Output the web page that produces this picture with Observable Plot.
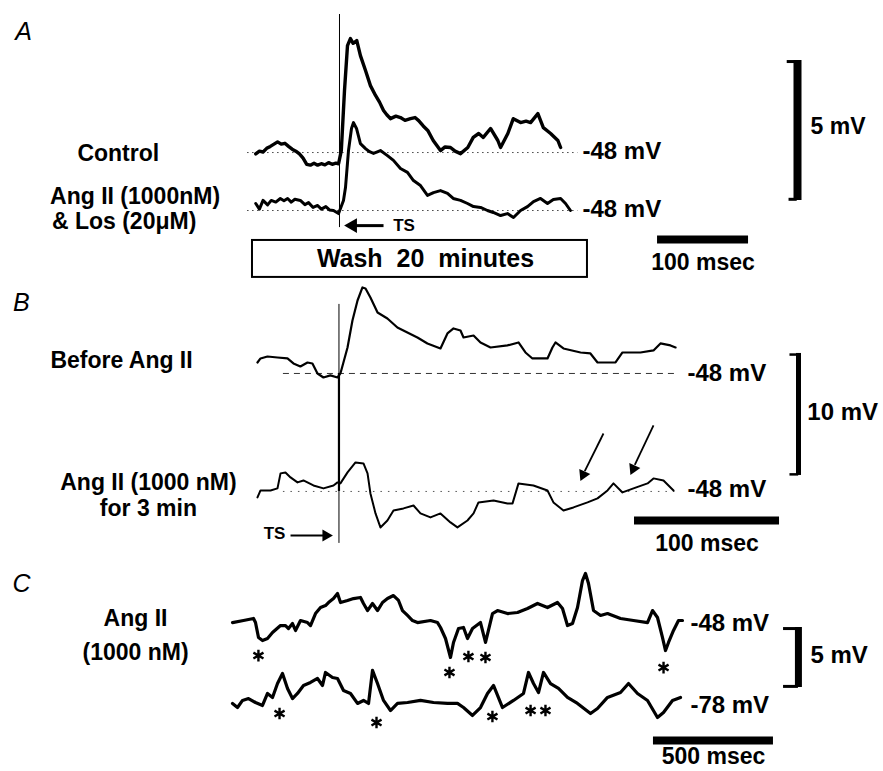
<!DOCTYPE html>
<html><head><meta charset="utf-8">
<script src="https://cdn.jsdelivr.net/npm/d3@7"></script>
<script src="https://cdn.jsdelivr.net/npm/@observablehq/plot@0.6"></script>
<style>
html,body{margin:0;padding:0;background:#fff;}
#fig{width:883px;height:771px;overflow:hidden;}
#fig svg{display:block;}
</style></head><body><div id="fig"></div>
<script>
// ---------- DATA (time in ms, deflection in mV from resting level) ----------
// Panel A: time from test stimulus (TS)
const aControlT = [-92,-88,-84,-80,-76,-72,-68,-64,-60,-56,-52,-48,-44,-40,-36,-32,-28,-24,-20,-16,-12,-8,-4,-1,2,5.5,8.8,12,15,19,23,28.6,34,39.6,44,48.4,52,56,62,67,72,78,83,87,92,97,103,111,116,122,127,133,141,147,153,158,166,174,177,185,191,199,205,210,218,224,232,240,243];
const aControlV = [-0.05,0.05,0.02,0.15,0.22,0.3,0.38,0.3,0.33,0.22,0.12,0.05,-0.05,-0.2,-0.42,-0.45,-0.38,-0.45,-0.4,-0.44,-0.36,-0.42,-0.38,-0.4,0.07,2.21,3.82,4.07,3.9,4.0,3.46,2.93,2.39,2.04,1.8,1.5,1.35,1.21,1.3,1.25,1.15,1.21,1.25,1.14,0.95,0.79,0.43,0.07,0.2,0.18,0.05,-0.04,0.18,0.54,0.68,0.54,0.86,0.43,0.18,0.68,1.21,1.07,1.12,1.07,1.39,0.89,0.68,0.43,0.18];
const aAngLosT = [-92,-88,-84,-79,-75,-70,-65,-61,-57,-53,-49,-43,-38,-34,-29,-24,-20,-15,-11,-6.6,-1,4.4,6.6,9.9,13.2,15.4,18.7,23,28.6,33,37.4,45,52.7,59.3,67,74.7,81.3,89,96.7,103.3,111,118.7,125,133,140.7,147.3,155,162.6,169,177,184.6,191.2,199,206.6,213.2,220.9,228.6,235,243,248.4,253.8];
const aAngLosV = [0.25,0.05,0.36,0.2,0.36,0.3,0.43,0.35,0.43,0.3,0.4,0.36,0.21,0.28,0.11,0.18,0.05,0.14,0.02,0,-0.11,0.36,0.82,2.14,2.93,3.14,2.93,2.39,2.21,2.1,2.04,2.14,1.96,1.79,1.5,1.36,1.07,0.89,0.54,0.64,0.71,0.61,0.43,0.36,0.25,0.14,0.11,0,-0.07,-0.18,-0.11,-0.25,0,0.14,0.32,0.43,0.25,0.39,0.43,0.25,0];
// Panel B
const bBeforeT = [-56.2,-54.1,-49.3,-42.4,-35.5,-31.4,-26.6,-21.7,-18.3,-14.8,-10.7,-5.9,-1,1,5.9,9.3,12.8,16.2,18.3,21.7,26.6,33.4,40.3,47.2,54.1,61,70,74.8,79,83.8,85.9,92.8,97.6,104.5,116.2,123.8,128.6,133.4,143.8,147.2,149.3,154.8,166.6,173.4,178.3,185.2,190.7,195.5,207.9,216.9,221.7,228.6,232.1];
const bBeforeV = [0.9,1.23,1.39,1.31,1.23,0.82,0.57,0.9,0.82,0,-0.33,-0.16,-0.33,0,2.13,4.34,5.98,7.05,6.97,6.23,5.0,4.51,3.77,3.36,2.95,2.46,2.05,3.28,3.69,3.52,2.95,3.11,2.54,2.13,2.3,2.54,1.72,1.23,1.23,2.13,2.54,2.05,1.72,1.64,0.9,0.9,0.9,1.72,1.72,1.89,2.46,2.3,2.13];
const bAngT = [-56.2,-54.1,-47.2,-42.4,-40.3,-36.9,-33.4,-28.6,-24.5,-17.6,-10.7,-3.8,-1,1,5.9,11.4,16.9,19.7,21.7,25.2,28.6,33.4,37.6,44.5,51.4,56.2,63.1,70,76.9,81.7,88.6,92.8,96.2,106.6,116.2,119.7,123.8,134.1,143.8,147.9,154.8,161.7,171.4,178.3,185.2,189.3,195.5,203.1,212.8,216.9,223.8,230.7];
const bAngV = [-0.49,0.08,0.08,0.25,1.48,1.56,1.15,0.74,0.9,0.49,0.25,0.49,0.74,0.66,1.56,2.38,2.3,1.48,-0.16,-1.8,-2.95,-2.38,-1.56,-1.39,-1.15,-1.8,-2.13,-1.8,-2.54,-2.95,-2.38,-1.8,-0.9,-0.74,-0.98,-0.98,0.66,0.49,0.08,-0.9,-1.56,-1.31,-0.9,-0.57,0.08,0.66,-0.08,0.25,0.66,1.07,0.9,0.08];
// Panel C: time from start of sweep
const cUpperT = [0,45.8,87.5,95.8,108.3,125,145.8,166.7,200,220.8,233.3,250,262.5,283.3,312.5,325,345.8,366.7,387.5,400,420.8,437.5,450,479.2,504.2,533.3,545.8,562.5,583.3,604.2,625,645.8,670.8,691.7,708.3,729.2,750,770.8,825,854.2,866.7,887.5,908.3,920.8,941.7,962.5,979.2,1000,1033.3,1054.2,1083.3,1104.2,1145.8,1187.5,1229.2,1270.8,1312.5,1354.2,1375,1395.8,1416.7,1437.5,1458.3,1470.8,1483.3,1504.2,1533.3,1562.5,1616.7,1670.8,1729.2,1750,1770.8,1791.7,1804.2,1816.7,1837.5,1858.3,1875];
const cUpperV = [0.08,0.25,0.42,0.08,-1.17,-1.42,-1.25,-0.75,-0.17,-0.17,-0.42,0,-0.58,0.25,0.08,-0.17,0.83,1.33,1.5,1.75,2.08,2.5,1.75,1.92,2.08,2.17,1.67,1.08,1.67,1.08,1.75,2.08,2.33,1.92,1.08,0.67,0.25,0.08,0.25,0.08,-0.33,-1.25,-2.83,-1.58,-0.42,-0.33,-1.25,-0.42,0.08,-1.58,0.83,1.08,0.83,0.92,1.25,1.67,1.33,1.75,1.25,-0.17,0,1.33,3.58,4.17,3.33,1.08,0.67,0.83,0.42,0.25,0.08,1.08,0.5,-1.17,-2.25,-1.58,-0.58,0.25,0.25];
const cLowerT = [0,20.8,41.7,66.7,95.8,125,145.8,166.7,187.5,208.3,229.2,250,270.8,295.8,325,354.2,375,387.5,416.7,437.5,462.5,491.7,520.8,545.8,566.7,583.3,604.2,629.2,658.3,687.5,729.2,783.3,837.5,895.8,937.5,962.5,1000,1033.3,1062.5,1087.5,1125,1170.8,1212.5,1233.3,1254.2,1275,1295.8,1325,1358.3,1395.8,1437.5,1491.7,1520.8,1562.5,1616.7,1650,1687.5,1729.2,1770.8,1795.8,1833.3,1866.7];
const cLowerV = [0.17,-0.17,0.42,0.58,0.25,0,1.0,0.67,1.83,2.67,1.42,0.58,1.0,1.67,1.92,2.25,1.67,2.75,2.33,2.25,1.25,1.0,0.17,0.42,0.17,2.92,1.83,0.42,-0.42,0.17,0.25,0.42,0.25,0.17,0.17,-0.17,-0.83,-0.17,1.0,1.67,-0.17,0.42,1.0,2.75,1.83,1.08,2.75,1.83,1.42,0.67,0.17,-0.67,-0.25,0.67,1.08,1.83,1.0,0.42,-1.0,-0.58,0.42,0.67];
// event markers (*) in panel C (ms)
const cUpperEvents = [108, 904, 983, 1054, 1796];
const cLowerEvents = [196, 600, 1083, 1242, 1304];
// text
const panelLetters = ["A", "B", "C"];
const aTraceLabels = ["Control", "Ang II (1000nM)", "& Los (20\u03BCM)"];
const bTraceLabels = ["Before Ang II", "Ang II (1000 nM)", "for 3 min"];
const cTraceLabels = ["Ang II", "(1000 nM)"];
const aBaseLabels = ["-48 mV", "-48 mV"];
const bBaseLabels = ["-48 mV", "-48 mV"];
const cBaseLabels = ["-48 mV", "-78 mV"];
const scaleLabels = ["5 mV", "100 msec", "10 mV", "100 msec", "5 mV", "500 msec"];
const washLabel = "Wash  20  minutes";
const tsLabel = "TS";

// ---------- LAYOUT ----------
const FONT = "'Liberation Sans', Arial, Helvetica, sans-serif";
function series(T, V, dv) {
  const n = Math.min(T.length, V.length);
  return d3.range(n).map(i => ({t: T[i], v: V[i] + dv}));
}
const K = () => [0];
const bold = (size) => ({fontFamily: FONT, fontWeight: "bold", fontSize: size, fill: "black"});
const letter = {fontFamily: FONT, fontStyle: "italic", fontSize: 25, fill: "black"};
function txt(str, t, v, opts) { return Plot.text([str], {x: () => t, y: () => v, text: d => d, ...opts}); }
function base(w, h, xd, yd, marks) {
  return Plot.plot({width: w, height: h, margin: 0,
    x: {domain: xd, axis: null}, y: {domain: yd, axis: null},
    style: {fontFamily: FONT, background: "white"}, marks});
}
const LBL = 23, MV = 24;

// Panel A
const aOff = [0, -2.07];
const A = base(883, 280, [-372.5, 597.8], [-4.57, 5.43], [
  Plot.ruleY(aOff, {y: d => d, x1: -101, x2: 262, stroke: "#444", strokeWidth: 1, strokeDasharray: "1.5,3.5"}),
  Plot.ruleX(K(), {x: 0, y1: -2.68, y2: 4.93, stroke: "black", strokeWidth: 1}),
  Plot.line(series(aControlT, aControlV, aOff[0]), {x: "t", y: "v", stroke: "black", strokeWidth: 3.4, strokeLinejoin: "round"}),
  Plot.line(series(aAngLosT, aAngLosV, aOff[1]), {x: "t", y: "v", stroke: "black", strokeWidth: 3.0, strokeLinejoin: "round"}),
  txt(panelLetters[0], -347, 4.29, letter),
  txt(aTraceLabels[0], -288, -0.04, {...bold(LBL), textAnchor: "start"}),
  txt(aTraceLabels[1], -318, -1.57, {...bold(LBL), textAnchor: "start"}),
  txt(aTraceLabels[2], -316, -2.47, {...bold(LBL), textAnchor: "start"}),
  Plot.text(aBaseLabels, {x: () => 267, y: (d, i) => aOff[i] + 0.05, text: d => d, ...bold(MV), textAnchor: "start"}),
  // TS arrow
  Plot.link(K(), {x1: 48.4, x2: 14, y1: -2.61, y2: -2.61, stroke: "black", strokeWidth: 3}),
  Plot.dot(K(), {x: 14.5, y: -2.61, symbol: "triangle", r: 5.5, fill: "black", rotate: -90}),
  txt(tsLabel, 59, -2.61, {...bold(17), textAnchor: "start"}),
  // wash box
  Plot.rect(K(), {x1: -95.6, x2: 272.5, y1: -4.46, y2: -3.14, fill: "white", stroke: "black", strokeWidth: 2}),
  txt(washLabel, 94.5, -3.8, {...bold(25), textAnchor: "middle"}),
  // scale bars
  Plot.ruleX(K(), {x: 503.3, y1: -1.71, y2: 3.29, stroke: "black", strokeWidth: 8}),
  Plot.ruleY(K(), {y: 3.25, x1: 492, x2: 503, stroke: "black", strokeWidth: 3}),
  Plot.ruleY(K(), {y: -1.67, x1: 494, x2: 503, stroke: "black", strokeWidth: 3}),
  txt(scaleLabels[0], 517.6, 0.93, {...bold(LBL), textAnchor: "start"}),
  Plot.ruleY(K(), {y: -3.11, x1: 349.5, x2: 449.5, stroke: "black", strokeWidth: 8}),
  txt(scaleLabels[1], 399.5, -3.93, {...bold(LBL), textAnchor: "middle"})
]);

// Panel B
const bOff = [0, -9.67];
const B = base(883, 280, [-233.4, 375.5], [-15.33, 7.62], [
  Plot.ruleY([bOff[0]], {y: d => d, x1: -38.3, x2: 234, stroke: "#333", strokeWidth: 1, strokeDasharray: "6,5"}),
  Plot.ruleY([bOff[1]], {y: d => d, x1: -38.3, x2: 234, stroke: "#555", strokeWidth: 1, strokeDasharray: "1.5,6"}),
  Plot.ruleX(K(), {x: 0, y1: -13.93, y2: 5.66, stroke: "black", strokeWidth: 1}),
  Plot.ruleX(K(), {x: 0, y1: -9.67, y2: 0, stroke: "black", strokeWidth: 2.2}),
  Plot.line(series(bBeforeT, bBeforeV, bOff[0]), {x: "t", y: "v", stroke: "black", strokeWidth: 2.2, strokeLinejoin: "round"}),
  Plot.line(series(bAngT, bAngV, bOff[1]), {x: "t", y: "v", stroke: "black", strokeWidth: 2.0, strokeLinejoin: "round"}),
  txt(panelLetters[1], -219, 5.74, letter),
  txt(bTraceLabels[0], -199, 1.07, {...bold(LBL), textAnchor: "start"}),
  txt(bTraceLabels[1], -131.4, -8.93, {...bold(LBL), textAnchor: "middle"}),
  txt(bTraceLabels[2], -131.4, -11.07, {...bold(LBL), textAnchor: "middle"}),
  Plot.text(bBaseLabels, {x: () => 240.3, y: (d, i) => bOff[i] + (i ? 0.2 : 0), text: d => d, ...bold(MV), textAnchor: "start"}),
  // arrows pointing to events
  Plot.link(K(), {x1: 182.4, y1: -4.92, x2: 169.5, y2: -8.0, stroke: "black", strokeWidth: 1.8}),
  Plot.dot(K(), {x: 168.5, y: -8.3, symbol: "triangle", r: 4.5, fill: "black", rotate: 204.7}),
  Plot.link(K(), {x1: 216.9, y1: -4.26, x2: 204, y2: -7.5, stroke: "black", strokeWidth: 1.8}),
  Plot.dot(K(), {x: 203, y: -7.8, symbol: "triangle", r: 4.5, fill: "black", rotate: 204.7}),
  // TS arrow
  txt(tsLabel, -36.9, -13.1, {...bold(17), textAnchor: "end"}),
  Plot.link(K(), {x1: -33.4, x2: -10, y1: -13.28, y2: -13.28, stroke: "black", strokeWidth: 2}),
  Plot.dot(K(), {x: -9, y: -13.28, symbol: "triangle", r: 4.5, fill: "black", rotate: 90}),
  // scale bars
  Plot.ruleX(K(), {x: 316.9, y1: -8.36, y2: 1.64, stroke: "black", strokeWidth: 5}),
  Plot.ruleY(K(), {y: 1.55, x1: 311, x2: 317, stroke: "black", strokeWidth: 2.5}),
  Plot.ruleY(K(), {y: -8.27, x1: 311, x2: 317, stroke: "black", strokeWidth: 2.5}),
  txt(scaleLabels[2], 323, -3.2, {...bold(MV), textAnchor: "start"}),
  Plot.ruleY(K(), {y: -12.05, x1: 203.8, x2: 303.8, stroke: "black", strokeWidth: 8}),
  txt(scaleLabels[3], 253.8, -13.93, {...bold(LBL), textAnchor: "middle"})
]);

// Panel C
const cOff = [0, -6.83];
const C = base(883, 211, [-966.7, 2712.5], [-12.33, 5.25], [
  Plot.line(series(cUpperT, cUpperV, cOff[0]), {x: "t", y: "v", stroke: "black", strokeWidth: 3.2, strokeLinejoin: "round"}),
  Plot.line(series(cLowerT, cLowerV, cOff[1]), {x: "t", y: "v", stroke: "black", strokeWidth: 3.2, strokeLinejoin: "round"}),
  Plot.dot(cUpperEvents, {x: d => d, y: (d, i) => [-2.67, -4.08, -2.75, -2.83, -3.67][i], symbol: "asterisk", r: 5.5, stroke: "black", strokeWidth: 2.4}),
  Plot.dot(cLowerEvents, {x: d => d, y: (d, i) => [-7.5, -8.25, -7.75, -7.25, -7.25][i], symbol: "asterisk", r: 5.5, stroke: "black", strokeWidth: 2.4}),
  txt(panelLetters[2], -879, 3.33, letter),
  txt(cTraceLabels[0], -404, 0.42, {...bold(LBL), textAnchor: "middle"}),
  txt(cTraceLabels[1], -404, -2.42, {...bold(LBL), textAnchor: "middle"}),
  Plot.text(cBaseLabels, {x: () => 1908, y: (d, i) => cOff[i], text: d => d, ...bold(MV), textAnchor: "start"}),
  Plot.ruleX(K(), {x: 2358, y1: -5.33, y2: -0.33, stroke: "black", strokeWidth: 7}),
  Plot.ruleY(K(), {y: -0.42, x1: 2296, x2: 2358, stroke: "black", strokeWidth: 3}),
  Plot.ruleY(K(), {y: -5.24, x1: 2296, x2: 2358, stroke: "black", strokeWidth: 3}),
  txt(scaleLabels[4], 2408, -2.67, {...bold(MV), textAnchor: "start"}),
  Plot.ruleY(K(), {y: -9.75, x1: 1754, x2: 2254, stroke: "black", strokeWidth: 8}),
  txt(scaleLabels[5], 2004, -11.05, {...bold(LBL), textAnchor: "middle"})
]);

const fig = document.getElementById("fig");
fig.append(A, B, C);
</script></body></html>
